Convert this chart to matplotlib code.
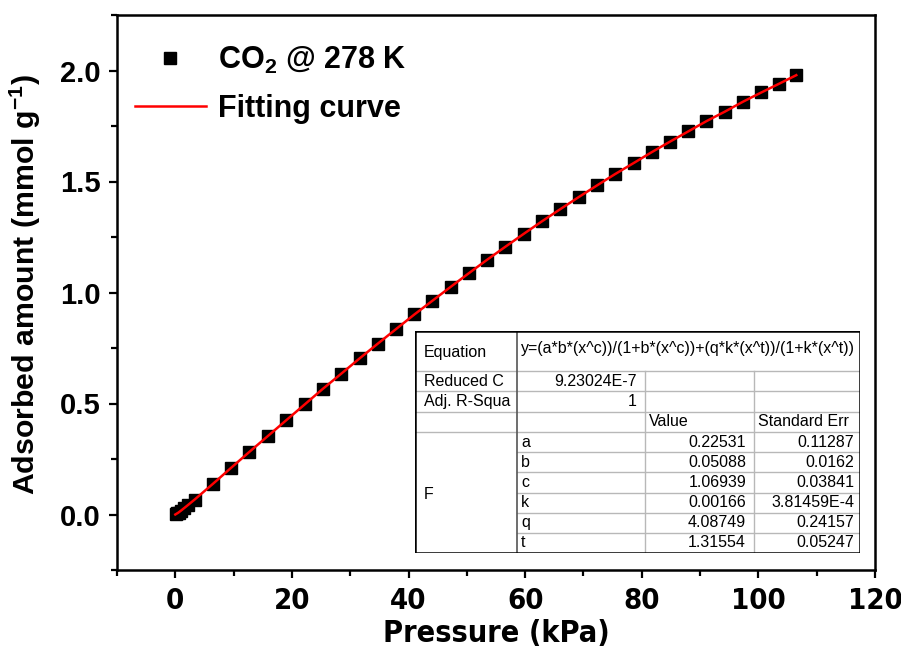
import matplotlib
matplotlib.use('Agg')
import matplotlib.pyplot as plt
from matplotlib import font_manager
from matplotlib.ticker import MultipleLocator, FormatStrFormatter

# CO2 isotherm at 278 K
pressure = [0.1, 0.3, 0.6, 1.0, 1.5, 2.1,
            3.3, 6.4, 9.6, 12.7, 15.9, 19.0, 22.2, 25.3, 28.4, 31.6, 34.7, 37.8,
            41.0, 44.1, 47.2, 50.4, 53.5, 56.6, 59.8, 62.9, 66.0, 69.2, 72.3,
            75.4, 78.6, 81.7, 84.8, 88.0, 91.1, 94.2, 97.4, 100.5, 103.6, 106.5]
uptake = [0.001, 0.005, 0.009, 0.018, 0.028, 0.041,
          0.067, 0.137, 0.211, 0.282, 0.354, 0.424, 0.496, 0.566, 0.633, 0.703,
          0.769, 0.834, 0.901, 0.963, 1.025, 1.088, 1.148, 1.206, 1.265, 1.321,
          1.375, 1.430, 1.482, 1.533, 1.583, 1.632, 1.679, 1.726, 1.772, 1.814,
          1.860, 1.901, 1.941, 1.979]

# fitting curve
fit_pressure = [0.0, 0.5, 1.0, 2.0, 3.3, 6.4, 9.6, 12.7, 15.9, 19.0, 22.2, 25.3,
                28.4, 31.6, 34.7, 37.8, 41.0, 44.1, 47.2, 50.4, 53.5, 56.6, 59.8,
                62.9, 66.0, 69.2, 72.3, 75.4, 78.6, 81.7, 84.8, 88.0, 91.1, 94.2,
                97.4, 100.5, 103.6, 106.5]
fit_uptake = [0.0, 0.008, 0.018, 0.039, 0.067, 0.137, 0.211, 0.282, 0.354, 0.424,
              0.496, 0.566, 0.633, 0.703, 0.769, 0.834, 0.901, 0.963, 1.025, 1.088,
              1.148, 1.206, 1.265, 1.321, 1.375, 1.430, 1.482, 1.533, 1.583, 1.632,
              1.679, 1.726, 1.772, 1.814, 1.860, 1.901, 1.941, 1.979]

# fit report table
eq_label = 'Equation'
eq_text = 'y=(a*b*(x^c))/(1+b*(x^c))+(q*k*(x^t))/(1+k*(x^t))'
stat_names = ['Reduced C', 'Adj. R-Squa']
stat_values = ['9.23024E-7', '1']
head_cols = ['Value', 'Standard Err']
group_name = 'F'
param_names = ['a', 'b', 'c', 'k', 'q', 't']
param_values = ['0.22531', '0.05088', '1.06939', '0.00166', '4.08749', '1.31554']
param_errors = ['0.11287', '0.0162', '0.03841', '3.81459E-4', '0.24157', '0.05247']

plt.rcParams['font.family'] = ['Liberation Sans', 'DejaVu Sans']
plt.rcParams['mathtext.default'] = 'regular'


# x axis text in the original is a condensed bold face; use one if there is any
def find_narrow():
    for f in font_manager.fontManager.ttflist:
        nm = f.name.lower()
        if ('narrow' in nm or 'condensed' in nm or str(f.stretch) in ('condensed', '75', 'semi-condensed')) \
                and f.weight in ('bold', 700, '700') and 'semi' not in nm and 'extra' not in nm:
            return f.fname
    return None


nfile = find_narrow()
if nfile:
    xfont = font_manager.FontProperties(fname=nfile, size=22)
    xtick_font = font_manager.FontProperties(fname=nfile, size=21)
else:
    xfont = font_manager.FontProperties(family='Liberation Sans', weight='bold', size=22)
    xtick_font = font_manager.FontProperties(family='Liberation Sans', weight='bold', size=20)

W, H = 901, 651
fig = plt.figure(figsize=(W/100, H/100), dpi=100)
ax = fig.add_axes([117/W, 1-570/H, 758/W, 555/H])

ax.plot(pressure, uptake, 's', color='black', ms=8.5, label='CO$_2$ @ 278 K', zorder=2)
ax.plot(fit_pressure, fit_uptake, '-', color='red', lw=1.8, label='Fitting curve', zorder=3)

ax.set_xlim(-10, 120)
ax.set_ylim(-0.25, 2.25)
ax.xaxis.set_major_locator(MultipleLocator(20))
ax.xaxis.set_minor_locator(MultipleLocator(10))
ax.yaxis.set_major_locator(MultipleLocator(0.5))
ax.yaxis.set_minor_locator(MultipleLocator(0.25))
ax.yaxis.set_major_formatter(FormatStrFormatter('%.1f'))
for s in ax.spines.values():
    s.set_linewidth(1.8)
ax.tick_params(which='both', direction='out', width=1.6, top=False, right=False)
ax.tick_params(which='major', length=6, labelsize=21, pad=6)
ax.tick_params(which='minor', length=4)
for lab in ax.get_yticklabels():
    lab.set_fontweight('bold')
for lab in ax.get_xticklabels():
    lab.set_fontproperties(xtick_font)

ax.set_xlabel('Pressure (kPa)', fontproperties=xfont, labelpad=3)
ax.set_ylabel('Adsorbed amount (mmol g$^{-1}$)', fontsize=21.8, fontweight='bold', labelpad=6)
ax.yaxis.set_label_coords(-0.097, 0.515)

leg = ax.legend(loc='upper left', bbox_to_anchor=(0.0, 0.98), frameon=False,
                prop={'size': 22, 'weight': 'bold'}, handlelength=2.3,
                handletextpad=0.4, labelspacing=0.6, borderaxespad=0.2)

# fit report table, drawn in its own pixel-unit axes
tab = fig.add_axes([415/W, 1-553/H, 445/W, 222/H])
tab.set_xlim(0, 445)
tab.set_ylim(222, 0)
tab.axis('off')
cx = [0, 102, 230, 339, 445]
ry = [0, 40, 60, 81, 101] + [101 + 20.17*i for i in range(1, 7)]
grey = '#b8b8b8'
fs = 11.5
for y in ry[1:-1]:
    x0 = cx[1] if y > ry[4] else cx[0]
    tab.plot([x0, cx[4]], [y, y], color=grey, lw=1)
tab.plot([cx[1], cx[1]], [0, 222], color='#555555', lw=1.2)
for x in cx[2:4]:
    tab.plot([x, x], [ry[1], 222], color=grey, lw=1)
tab.plot([0, 445, 445, 0, 0], [0, 0, 222, 222, 0], color='black', lw=1.8)

tab.text(9, ry[0]+21, eq_label, fontsize=fs, va='center')
tab.text(cx[1]+4, ry[0]+18, eq_text, fontsize=fs, va='center')
for i, (n, v) in enumerate(zip(stat_names, stat_values)):
    yc = (ry[1+i] + ry[2+i]) / 2
    tab.text(9, yc, n, fontsize=fs, va='center')
    tab.text(cx[2]-8, yc, v, fontsize=fs, va='center', ha='right')
yc = (ry[3] + ry[4]) / 2
tab.text(cx[2]+4, yc, head_cols[0], fontsize=fs, va='center')
tab.text(cx[3]+4, yc, head_cols[1], fontsize=fs, va='center')
tab.text(9, (ry[4] + ry[10]) / 2 + 2, group_name, fontsize=fs, va='center')
for i, (n, v, e) in enumerate(zip(param_names, param_values, param_errors)):
    yc = (ry[4+i] + ry[5+i]) / 2
    tab.text(cx[1]+4, yc, n, fontsize=fs, va='center')
    tab.text(cx[3]-8, yc, v, fontsize=fs, va='center', ha='right')
    tab.text(cx[4]-6, yc, e, fontsize=fs, va='center', ha='right')

fig.savefig('out.png', dpi=100)
